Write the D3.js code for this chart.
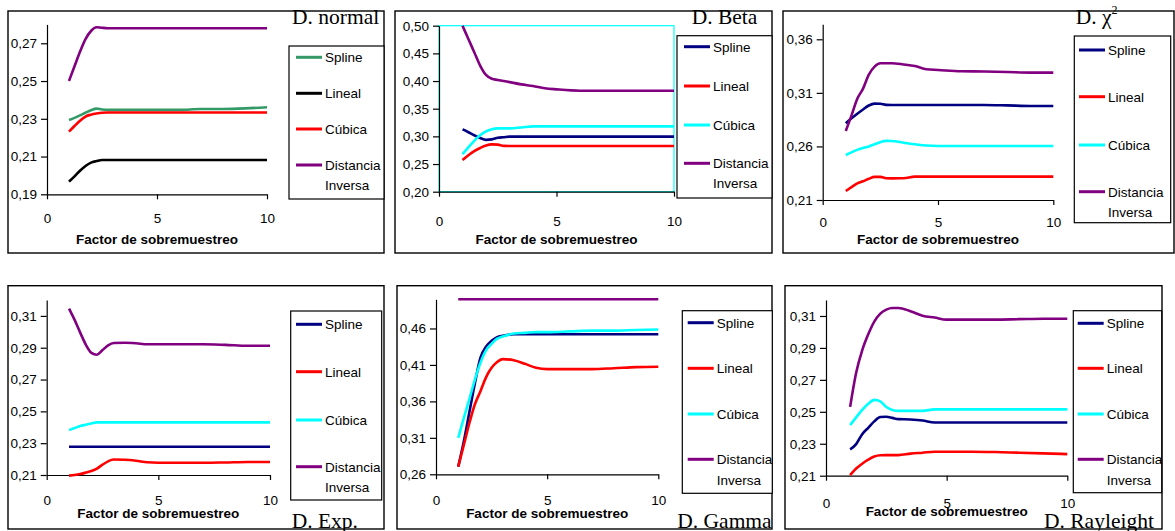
<!DOCTYPE html>
<html>
<head>
<meta charset="utf-8">
<script src="https://cdn.jsdelivr.net/npm/d3@7"></script>
<style>
  body { margin: 0; background: #fff; }
  text { font-family: "Liberation Sans", Arial, sans-serif; }
  text.ptitle { font-family: "Liberation Serif", "Times New Roman", serif; }
</style>
</head>
<body>
<svg id="chart" width="1175" height="531"></svg>
<script>
// factor de sobremuestreo (x values shared by every panel)
var factors = [1, 1.25, 1.5, 1.75, 2, 2.25, 2.5, 2.75, 3, 3.5, 4, 4.5, 5, 6, 7, 8, 9, 10];
var xTicks = [0, 5, 10];
var seriesNames = ["Spline", "Lineal", "Cúbica", "Distancia Inversa"];

// D. normal
var normalSpline = [0.2294, 0.2305, 0.2318, 0.2332, 0.2345, 0.2354, 0.2349, 0.2347, 0.2347, 0.2347, 0.2347, 0.2347, 0.2347, 0.2347, 0.2352, 0.2352, 0.2355, 0.2361];
var normalLineal = [0.1967, 0.1995, 0.2025, 0.2050, 0.2068, 0.2076, 0.2082, 0.2082, 0.2082, 0.2082, 0.2082, 0.2082, 0.2082, 0.2082, 0.2082, 0.2082, 0.2082, 0.2082];
var normalCubica = [0.2232, 0.2262, 0.2290, 0.2312, 0.2322, 0.2328, 0.2332, 0.2333, 0.2333, 0.2333, 0.2333, 0.2333, 0.2333, 0.2333, 0.2333, 0.2333, 0.2333, 0.2333];
var normalDist = [0.2500, 0.2578, 0.2655, 0.2722, 0.2765, 0.2785, 0.2782, 0.2780, 0.2780, 0.2780, 0.2780, 0.2780, 0.2780, 0.2780, 0.2780, 0.2780, 0.2780, 0.2780];
var normalTicks = [0.19, 0.21, 0.23, 0.25, 0.27];

// D. Beta
var betaSpline = [0.3127, 0.3075, 0.3020, 0.2970, 0.2937, 0.2945, 0.2975, 0.2985, 0.2995, 0.2995, 0.2995, 0.2995, 0.2995, 0.2995, 0.2995, 0.2995, 0.2995, 0.2995];
var betaLineal = [0.2572, 0.2660, 0.2735, 0.2790, 0.2835, 0.2855, 0.2850, 0.2828, 0.2825, 0.2825, 0.2825, 0.2825, 0.2825, 0.2825, 0.2825, 0.2825, 0.2825, 0.2825];
var betaCubica = [0.2680, 0.2800, 0.2920, 0.3020, 0.3090, 0.3130, 0.3145, 0.3145, 0.3145, 0.3160, 0.3180, 0.3180, 0.3180, 0.3180, 0.3180, 0.3180, 0.3180, 0.3180];
var betaDist = [0.500, 0.476, 0.452, 0.428, 0.411, 0.404, 0.402, 0.400, 0.398, 0.394, 0.391, 0.387, 0.385, 0.3825, 0.3825, 0.3825, 0.3825, 0.3825];
var betaTicks = [0.20, 0.25, 0.30, 0.35, 0.40, 0.45, 0.50];

// D. chi cuadrado
var chiSpline = [0.2816, 0.2862, 0.2905, 0.2945, 0.2982, 0.3000, 0.2998, 0.2988, 0.2987, 0.2987, 0.2987, 0.2987, 0.2987, 0.2987, 0.2987, 0.2983, 0.2978, 0.2978];
var chiLineal = [0.2184, 0.2220, 0.2255, 0.2275, 0.2298, 0.2316, 0.2316, 0.2303, 0.2302, 0.2303, 0.2318, 0.2318, 0.2318, 0.2318, 0.2318, 0.2318, 0.2318, 0.2318];
var chiCubica = [0.2520, 0.2545, 0.2568, 0.2585, 0.2600, 0.2620, 0.2640, 0.2652, 0.2650, 0.2635, 0.2620, 0.2608, 0.2604, 0.2604, 0.2604, 0.2604, 0.2604, 0.2604];
var chiDist = [0.2744, 0.2890, 0.3045, 0.3140, 0.3270, 0.3345, 0.3376, 0.3376, 0.3376, 0.3365, 0.3350, 0.3320, 0.3314, 0.3302, 0.3300, 0.3295, 0.3289, 0.3289];
var chiTicks = [0.21, 0.26, 0.31, 0.36];

// D. Exp.
var expSpline = [0.2278, 0.2278, 0.2278, 0.2278, 0.2278, 0.2278, 0.2278, 0.2278, 0.2278, 0.2278, 0.2278, 0.2278, 0.2278, 0.2278, 0.2278, 0.2278, 0.2278, 0.2278];
var expLineal = [0.2096, 0.2100, 0.2106, 0.2115, 0.2125, 0.2140, 0.2165, 0.2186, 0.2197, 0.2196, 0.2190, 0.2180, 0.2177, 0.2177, 0.2177, 0.2179, 0.2182, 0.2182];
var expCubica = [0.2382, 0.2395, 0.2408, 0.2416, 0.2424, 0.2431, 0.2431, 0.2431, 0.2431, 0.2431, 0.2431, 0.2431, 0.2431, 0.2431, 0.2431, 0.2431, 0.2431, 0.2431];
var expDist = [0.3146, 0.3075, 0.2995, 0.2920, 0.2868, 0.2856, 0.2885, 0.2915, 0.2930, 0.2931, 0.2928, 0.2922, 0.2922, 0.2922, 0.2922, 0.2918, 0.2912, 0.2912];
var expTicks = [0.21, 0.23, 0.25, 0.27, 0.29, 0.31];

// D. Gamma
var gammaSpline = [0.2705, 0.305, 0.345, 0.385, 0.420, 0.435, 0.443, 0.448, 0.450, 0.452, 0.452, 0.452, 0.452, 0.452, 0.452, 0.452, 0.452, 0.452];
var gammaLineal = [0.2705, 0.300, 0.330, 0.356, 0.374, 0.393, 0.406, 0.414, 0.418, 0.4165, 0.4115, 0.406, 0.4043, 0.4043, 0.4043, 0.4055, 0.407, 0.4075];
var gammaCubica = [0.310, 0.337, 0.363, 0.390, 0.413, 0.430, 0.439, 0.446, 0.449, 0.453, 0.454, 0.455, 0.455, 0.456, 0.457, 0.457, 0.458, 0.4586];
var gammaDist = [0.50, 0.50, 0.50, 0.50, 0.50, 0.50, 0.50, 0.50, 0.50, 0.50, 0.50, 0.50, 0.50, 0.50, 0.50, 0.50, 0.50, 0.50];
var gammaTicks = [0.26, 0.31, 0.36, 0.41, 0.46];

// D. Rayleight
var rayleighSpline = [0.2265, 0.2298, 0.2360, 0.2400, 0.2440, 0.2467, 0.2469, 0.2462, 0.2454, 0.2452, 0.2446, 0.2433, 0.2433, 0.2433, 0.2433, 0.2433, 0.2433, 0.2433];
var rayleighLineal = [0.2104, 0.2145, 0.2175, 0.2200, 0.2220, 0.2228, 0.2229, 0.2229, 0.2229, 0.2238, 0.2244, 0.2250, 0.2250, 0.2250, 0.2248, 0.2244, 0.2240, 0.2235];
var rayleighCubica = [0.2417, 0.2465, 0.2512, 0.2550, 0.2575, 0.2565, 0.2530, 0.2512, 0.2506, 0.2506, 0.2506, 0.2515, 0.2515, 0.2515, 0.2515, 0.2515, 0.2515, 0.2515];
var rayleighDist = [0.2531, 0.2745, 0.2885, 0.2985, 0.3065, 0.3115, 0.3140, 0.3150, 0.3150, 0.3130, 0.3102, 0.3090, 0.3077, 0.3077, 0.3077, 0.3080, 0.3083, 0.3083];
var rayleighTicks = [0.21, 0.23, 0.25, 0.27, 0.29, 0.31];

var baseColors = ["#000080", "#ff0000", "#00ffff", "#800080"];
var normalColors = ["#339966", "#000000", "#ff0000", "#800080"];

// panel layout (pixel positions)
var panels = [
  { title: "D. normal", series: [normalSpline, normalLineal, normalCubica, normalDist], ticks: normalTicks, ymin: 0.19, ymax: 0.28, colors: normalColors,
    frame: [8, 11, 384, 253], x0: 47, x1: 267, yb: 194.3, yt: 24.4, tickY: 218, axTitleY: 239.3,
    legend: [289, 46, 384, 199], rows: [57.3, 93.3, 129, 165, 185], lx: 296, tx: 292, ty: 24 },
  { title: "D.  Beta", series: [betaSpline, betaLineal, betaCubica, betaDist], ticks: betaTicks, ymin: 0.20, ymax: 0.50, colors: baseColors, cyanBox: true,
    frame: [395, 11, 772, 253], x0: 439, x1: 674, yb: 191.7, yt: 25.7, tickY: 221.7, axTitleY: 239.3,
    legend: [677, 35.7, 772, 198], rows: [46.7, 86, 125, 163.3, 183.3], lx: 684, tx: 691.7, ty: 24 },
  { title: "D.  χ", sup: "2", series: [chiSpline, chiLineal, chiCubica, chiDist], ticks: chiTicks, ymin: 0.21, ymax: 0.374, colors: baseColors,
    frame: [783, 11, 1174, 253], x0: 822.7, x1: 1053.3, yb: 200, yt: 24.3, tickY: 222.7, axTitleY: 239.3,
    legend: [1074.3, 36, 1170.7, 222.7], rows: [50, 96.7, 145, 191.7, 212.3], lx: 1079, tx: 1075.7, ty: 24 },
  { title: "D.  Exp.", series: [expSpline, expLineal, expCubica, expDist], ticks: expTicks, ymin: 0.21, ymax: 0.32, colors: baseColors,
    frame: [8, 285.7, 384, 529], x0: 46.7, x1: 270, yb: 475, yt: 300, tickY: 500, axTitleY: 512.7,
    legend: [290.7, 311, 381.7, 500], rows: [324.3, 371.7, 420, 466.7, 486.7], lx: 296, tx: 291.7, ty: 528 },
  { title: "D.  Gamma", series: [gammaSpline, gammaLineal, gammaCubica, gammaDist], ticks: gammaTicks, ymin: 0.26, ymax: 0.50, colors: baseColors,
    frame: [397, 285.7, 772, 529], x0: 436, x1: 658.3, yb: 474.3, yt: 299.3, tickY: 500, axTitleY: 512.7,
    legend: [682.3, 310.7, 772.3, 493.3], rows: [322.7, 368.3, 414, 459.3, 480], lx: 687.7, tx: 677.3, ty: 528 },
  { title: "D.  Rayleight", series: [rayleighSpline, rayleighLineal, rayleighCubica, rayleighDist], ticks: rayleighTicks, ymin: 0.21, ymax: 0.32, colors: baseColors,
    frame: [785, 285.7, 1162, 529], x0: 826, x1: 1067.3, yb: 475.7, yt: 300, tickY: 503.3, axTitleY: 510.7,
    legend: [1073.3, 310.7, 1161.7, 492.7], rows: [323.3, 368.3, 414, 459.3, 480], lx: 1077.7, tx: 1044, ty: 528 }
];

var svg = d3.select("#chart");
var fmt = function (v) { return d3.format(".2f")(v).replace(".", ","); };

panels.forEach(function (p) {
  var g = svg.append("g");
  var x = d3.scaleLinear().domain([0, 10]).range([p.x0, p.x1]);
  var y = d3.scaleLinear().domain([p.ymin, p.ymax]).range([p.yb, p.yt]);

  // outer frame
  g.append("rect")
    .attr("x", p.frame[0]).attr("y", p.frame[1])
    .attr("width", p.frame[2] - p.frame[0]).attr("height", p.frame[3] - p.frame[1])
    .attr("fill", "#fff").attr("stroke", "#000").attr("stroke-width", 1.4);

  if (p.cyanBox) {
    g.append("rect")
      .attr("x", p.x0).attr("y", p.yt)
      .attr("width", p.x1 - p.x0).attr("height", p.yb - p.yt)
      .attr("fill", "none").attr("stroke", "#00ffff").attr("stroke-width", 1.2);
  }

  // y axis
  var yAx = g.append("g")
    .attr("transform", "translate(" + p.x0 + ",0)")
    .call(d3.axisLeft(y).tickValues(p.ticks).tickFormat(fmt).tickSizeInner(6).tickSizeOuter(0).tickPadding(4));
  // x axis
  var xAx = g.append("g")
    .attr("transform", "translate(0," + p.yb + ")")
    .call(d3.axisBottom(x).tickValues(xTicks).tickSizeInner(5).tickSizeOuter(0)
      .tickPadding(p.tickY - p.yb - 4.8 - 5));
  [yAx, xAx].forEach(function (a) {
    a.select(".domain").attr("stroke", "#000").attr("stroke-width", 1.2);
    a.selectAll(".tick line").attr("stroke", "#000").attr("stroke-width", 1.2);
    a.selectAll("text").attr("font-size", 13.5).attr("fill", "#000");
  });

  // axis title
  g.append("text")
    .attr("x", x(5)).attr("y", p.axTitleY).attr("dy", "0.36em")
    .attr("text-anchor", "middle").attr("font-size", 13.5).attr("font-weight", "bold")
    .text("Factor de sobremuestreo");

  // series lines
  var line = d3.line()
    .x(function (d, i) { return x(factors[i]); })
    .y(function (d) { return y(d); })
    .curve(d3.curveMonotoneX);
  p.series.forEach(function (s, i) {
    g.append("path").datum(s)
      .attr("d", line)
      .attr("fill", "none").attr("stroke", p.colors[i]).attr("stroke-width", 2.6);
  });

  // legend
  var L = p.legend;
  g.append("rect")
    .attr("x", L[0]).attr("y", L[1]).attr("width", L[2] - L[0]).attr("height", L[3] - L[1])
    .attr("fill", "#fff").attr("stroke", "#000").attr("stroke-width", 1.2);
  seriesNames.forEach(function (name, i) {
    var ry = p.rows[i];
    g.append("line")
      .attr("x1", p.lx).attr("x2", p.lx + 26).attr("y1", ry).attr("y2", ry)
      .attr("stroke", p.colors[i]).attr("stroke-width", 3);
    var words = name === "Distancia Inversa" ? ["Distancia", "Inversa"] : [name];
    words.forEach(function (w, k) {
      g.append("text")
        .attr("x", p.lx + 29).attr("y", k === 0 ? ry : p.rows[4]).attr("dy", "0.36em")
        .attr("font-size", 13.5).text(w);
    });
  });

  // panel title (serif)
  var t = g.append("text")
    .attr("class", "ptitle")
    .attr("x", p.tx).attr("y", p.ty)
    .attr("font-size", 21.5).text(p.title);
  if (p.sup) {
    t.append("tspan").attr("dy", -10).attr("font-size", 12).text(p.sup);
  }
});
</script>
</body>
</html>
